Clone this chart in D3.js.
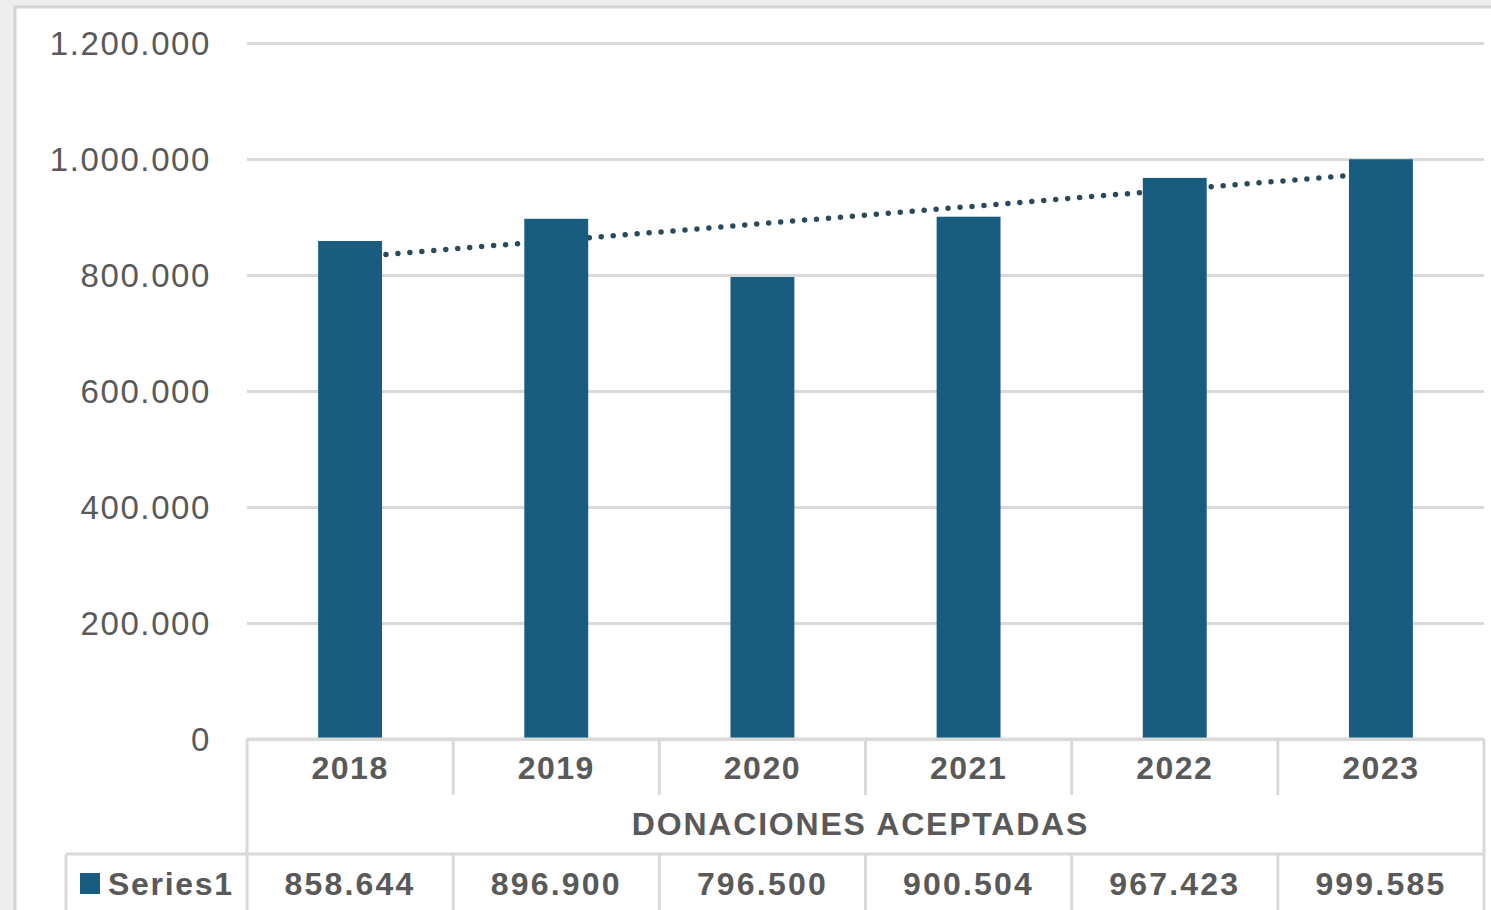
<!DOCTYPE html>
<html>
<head>
<meta charset="utf-8">
<script src="https://cdn.jsdelivr.net/npm/d3@7"></script>
<style>
  body { margin: 0; background: #eeeeee; }
  svg { display: block; }
  text { font-family: "Liberation Sans", Arial, sans-serif; fill: #595959; }
</style>
</head>
<body>
<svg id="chart"></svg>
<script>
// chart data
const years = ["2018", "2019", "2020", "2021", "2022", "2023"];
const donaciones = [858644, 896900, 796500, 900504, 967423, 999585];
const yTicks = [0, 200000, 400000, 600000, 800000, 1000000, 1200000];
const seriesName = "Series1";
const groupLabel = "DONACIONES ACEPTADAS";

const W = 1491, H = 910;
const margin = { left: 247, right: 7, top: 43 };
const y0 = 739;
const barColor = "#185d80";
const gridColor = "#d9d9d9";

const svg = d3.select("#chart").attr("width", W).attr("height", H);

// outer frame
svg.append("rect").attr("x", 0).attr("y", 0).attr("width", W).attr("height", H).attr("fill", "#eeeeee");
svg.append("rect").attr("x", 15).attr("y", 7).attr("width", W).attr("height", H)
  .attr("fill", "#ffffff").attr("stroke", "#d3d3d3").attr("stroke-width", 3);

const x = d3.scaleBand()
  .domain(years)
  .range([margin.left, W - margin.right])
  .paddingInner(0.69)
  .paddingOuter(0.345);

const y = d3.scaleLinear().domain([0, 1200000]).range([y0, margin.top]);

const loc = d3.formatLocale({ decimal: ",", thousands: ".", grouping: [3], currency: ["", ""] });
const fmt = loc.format(",d");

// gridlines + y labels
const yAxis = d3.axisLeft(y).tickValues(yTicks).tickFormat(fmt)
  .tickSize(-(W - margin.right - margin.left)).tickPadding(36);
const gy = svg.append("g").attr("transform", `translate(${margin.left},0)`).call(yAxis);
gy.select(".domain").remove();
gy.selectAll(".tick line").attr("stroke", gridColor).attr("stroke-width", 3);
gy.selectAll(".tick text").style("font-size", "33px").style("letter-spacing", "1.6px")
  .attr("fill", "#595959").attr("dy", "0.35em");

// linear trendline (least squares over the series)
const n = donaciones.length;
const xs = d3.range(1, n + 1);
const mx = d3.mean(xs), my = d3.mean(donaciones);
const slope = d3.sum(xs, (v, i) => (v - mx) * (donaciones[i] - my)) / d3.sum(xs, v => (v - mx) ** 2);
const icpt = my - slope * mx;
const cx = d => x(d) + x.bandwidth() / 2;
const trend = [0, n - 1].map(i => [cx(years[i]), y(icpt + slope * (i + 1))]);
svg.append("path")
  .attr("d", d3.line()(trend))
  .attr("fill", "none")
  .attr("stroke", "#2a4a5c")
  .attr("stroke-width", 5.5)
  .attr("stroke-linecap", "round")
  .attr("stroke-dasharray", "0 12");

// bars
svg.selectAll(".bar").data(years).join("rect")
  .attr("class", "bar")
  .attr("x", d => x(d))
  .attr("width", x.bandwidth())
  .attr("y", (d, i) => y(donaciones[i]))
  .attr("height", (d, i) => y0 - y(donaciones[i]))
  .attr("fill", barColor);

// data table
const tbl = svg.append("g").attr("stroke", gridColor).attr("stroke-width", 3).attr("fill", "none");
const right = W - margin.right;
const rowSep = 854;
const legendLeft = 66;
tbl.append("line").attr("x1", margin.left).attr("x2", right).attr("y1", y0).attr("y2", y0);
tbl.append("line").attr("x1", legendLeft).attr("x2", right).attr("y1", rowSep).attr("y2", rowSep);
tbl.append("line").attr("x1", margin.left).attr("x2", margin.left).attr("y1", y0).attr("y2", H);
tbl.append("line").attr("x1", right).attr("x2", right).attr("y1", y0).attr("y2", H);
tbl.append("line").attr("x1", legendLeft).attr("x2", legendLeft).attr("y1", rowSep).attr("y2", H);
const step = x.step();
years.slice(1).forEach((d, i) => {
  const sx = margin.left + step * (i + 1);
  tbl.append("line").attr("x1", sx).attr("x2", sx).attr("y1", y0).attr("y2", 795);
  tbl.append("line").attr("x1", sx).attr("x2", sx).attr("y1", rowSep).attr("y2", H);
});

// category labels
svg.selectAll(".yr").data(years).join("text")
  .attr("class", "yr")
  .attr("x", d => cx(d))
  .attr("y", 768)
  .attr("dy", "0.35em")
  .attr("text-anchor", "middle")
  .style("font-size", "32px").style("font-weight", "bold").style("letter-spacing", "1.5px")
  .text(d => d);

svg.append("text")
  .attr("x", (margin.left + right) / 2 - 5)
  .attr("y", 824)
  .attr("dy", "0.35em")
  .attr("text-anchor", "middle")
  .style("font-size", "32px").style("font-weight", "bold").style("letter-spacing", "1.8px")
  .text(groupLabel);

// value row
svg.selectAll(".val").data(donaciones).join("text")
  .attr("class", "val")
  .attr("x", (d, i) => cx(years[i]))
  .attr("y", 884)
  .attr("dy", "0.35em")
  .attr("text-anchor", "middle")
  .style("font-size", "32px").style("font-weight", "bold").style("letter-spacing", "2.2px")
  .text(d => fmt(d));

// legend key
svg.append("rect").attr("x", 80).attr("y", 873).attr("width", 20).attr("height", 21).attr("fill", barColor);
svg.append("text")
  .attr("x", 108)
  .attr("y", 884)
  .attr("dy", "0.35em")
  .style("font-size", "32px").style("font-weight", "bold").style("letter-spacing", "1.7px")
  .text(seriesName);
</script>
</body>
</html>
